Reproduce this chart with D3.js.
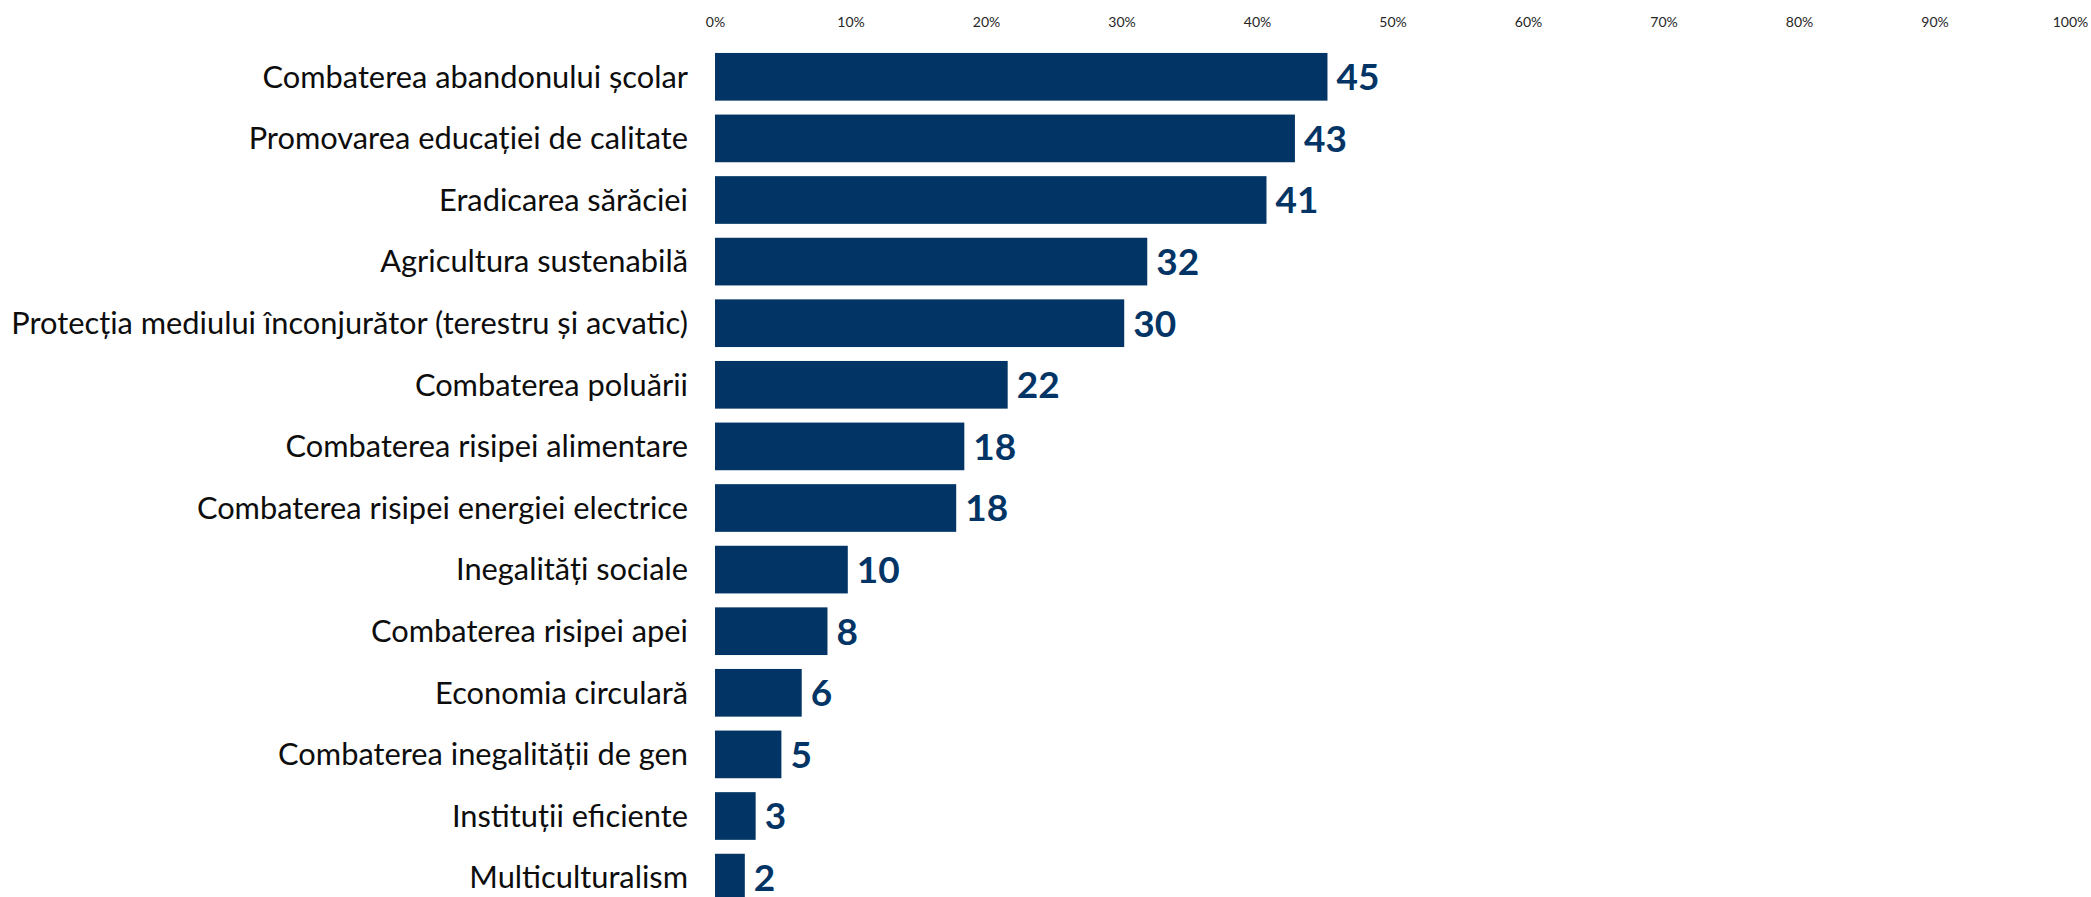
<!DOCTYPE html>
<html>
<head>
<meta charset="utf-8">
<script src="https://cdn.jsdelivr.net/npm/d3@7"></script>
<style>
  html, body { margin: 0; padding: 0; background: #ffffff; }
  svg { display: block; }
</style>
</head>
<body>
<script>
const categories = [
  "Combaterea abandonului școlar",
  "Promovarea educației de calitate",
  "Eradicarea sărăciei",
  "Agricultura sustenabilă",
  "Protecția mediului înconjurător (terestru și acvatic)",
  "Combaterea poluării",
  "Combaterea risipei alimentare",
  "Combaterea risipei energiei electrice",
  "Inegalități sociale",
  "Combaterea risipei apei",
  "Economia circulară",
  "Combaterea inegalității de gen",
  "Instituții eficiente",
  "Multiculturalism"
];
const values = [45.2, 42.8, 40.7, 31.9, 30.2, 21.6, 18.4, 17.8, 9.8, 8.3, 6.4, 4.9, 3.0, 2.2];
const valueLabels = ["45", "43", "41", "32", "30", "22", "18", "18", "10", "8", "6", "5", "3", "2"];
const tickValues = [0, 10, 20, 30, 40, 50, 60, 70, 80, 90, 100];
const tickLabels = ["0%", "10%", "20%", "30%", "40%", "50%", "60%", "70%", "80%", "90%", "100%"];

const W = 2091, H = 897;
const barColor = "#023565";

const svg = d3.select("body").append("svg")
  .attr("width", W).attr("height", H);

const x = d3.scaleLinear().domain([0, 100]).range([715, 2070]);
const y = d3.scaleBand().domain(categories).range([46, 46 + 61.6 * categories.length])
  .paddingInner(0.226).paddingOuter(0.113);

// top axis (tick labels only)
const axis = d3.axisTop(x).tickValues(tickValues)
  .tickFormat((d, i) => tickLabels[i]).tickSize(0).tickPadding(0);
const gAxis = svg.append("g").attr("transform", "translate(0,27)").call(axis);
gAxis.select(".domain").remove();
gAxis.selectAll("text")
  .attr("font-family", "Lato, 'Open Sans', sans-serif")
  .attr("font-size", 14)
  .attr("fill", "#262626");

// bars
svg.append("g").selectAll("rect")
  .data(values)
  .join("rect")
  .attr("x", x(0))
  .attr("y", (d, i) => y(categories[i]))
  .attr("width", d => x(d) - x(0))
  .attr("height", y.bandwidth())
  .attr("fill", barColor);

// value labels
svg.append("g").selectAll("text")
  .data(values)
  .join("text")
  .attr("x", d => x(d) + 9)
  .attr("y", (d, i) => y(categories[i]) + y.bandwidth() / 2)
  .attr("dy", "0.36em")
  .attr("font-family", "Lato, 'Open Sans', sans-serif")
  .attr("font-weight", "bold")
  .attr("font-size", 37)
  .attr("fill", barColor)
  .text((d, i) => valueLabels[i]);

// category labels
const catG = svg.append("g");
const catText = catG.selectAll("text")
  .data(categories)
  .join("text")
  .attr("x", 688)
  .attr("y", d => y(d) + y.bandwidth() / 2)
  .attr("dy", "0.35em")
  .attr("text-anchor", "end")
  .attr("font-family", "Lato, 'Open Sans', sans-serif")
  .attr("font-size", 28)
  .attr("fill", "#0d0d0d")
  .text(d => d);

// fit the longest label to the reference width (~677px)
let maxW = 0;
catText.each(function() { maxW = Math.max(maxW, this.getComputedTextLength()); });
const fs = 28 * 677 / maxW;
catText.attr("font-size", fs);
</script>
</body>
</html>
